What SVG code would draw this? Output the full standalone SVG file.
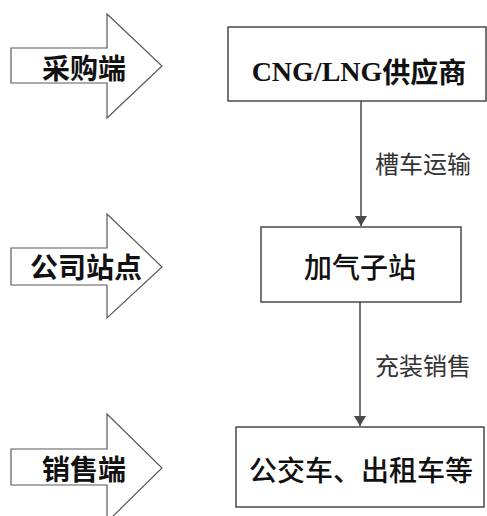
<svg xmlns="http://www.w3.org/2000/svg" width="487" height="516" viewBox="0 0 487 516">
<style>
.bg{fill:#ffffff}
.side{fill:#ffffff;stroke:#5a5a5a;stroke-width:1.2}
.box{fill:#ffffff;stroke:#4a4a4a;stroke-width:1.5}
.t{font-family:"Noto Sans CJK SC","Noto Sans",sans-serif;font-weight:bold;font-size:28px;fill:#111;text-anchor:middle;dominant-baseline:central}
.tn{font-family:"Noto Sans CJK SC","Noto Sans",sans-serif;font-weight:500;font-size:28px;fill:#111;text-anchor:middle;dominant-baseline:central}
.tl{font-family:"Liberation Serif","Noto Sans CJK SC",serif;font-weight:bold;font-size:28px;fill:#111;text-anchor:middle;dominant-baseline:central}
.lab{font-family:"Noto Sans CJK SC","Noto Sans",sans-serif;font-size:24px;fill:#333;text-anchor:start;dominant-baseline:central}
.con{stroke:#4a4a4a;stroke-width:1.5;fill:none}
</style>
<defs>
<marker id="ah" viewBox="0 0 10 12" refX="10" refY="6" markerWidth="10" markerHeight="12" markerUnits="userSpaceOnUse" orient="auto">
<path d="M0,0 L10,6 L0,12 Z" fill="#4a4a4a"/>
</marker>
</defs>
<rect class="bg" x="0" y="0" width="487" height="516"/>
<g id="side-purchase">
<path class="side" d="M11,48 H107 V14 L162,66 L107,118 V83 H11 Z"/>
<text class="t" x="84" y="67">采购端</text>
</g>
<g id="side-station">
<path class="side" d="M11,248 H107 V214 L162,267 L107,318 V285 H11 Z"/>
<text class="t" x="86" y="266">公司站点</text>
</g>
<g id="side-sales">
<path class="side" d="M11,449 H107 V414 L162,468 L107,522 V485 H11 Z"/>
<text class="t" x="84" y="468">销售端</text>
</g>
<g id="supplier">
<rect class="box" x="228" y="27" width="258" height="74"/>
<text class="tl" x="359" y="71">CNG/LNG<tspan font-family="Noto Sans CJK SC,sans-serif">供应商</tspan></text>
</g>
<g id="station">
<rect class="box" x="261" y="227" width="200" height="75"/>
<text class="tn" x="360" y="266">加气子站</text>
</g>
<g id="customers">
<rect class="box" x="236" y="427" width="248" height="80"/>
<text class="tn" x="361" y="469">公交车、出租车等</text>
</g>
<g id="connectors">
<line class="con" x1="361" y1="101" x2="361" y2="226" marker-end="url(#ah)"/>
<text class="lab" x="375" y="162">槽车运输</text>
<line class="con" x1="360" y1="302" x2="360" y2="426" marker-end="url(#ah)"/>
<text class="lab" x="375" y="364">充装销售</text>
</g>
</svg>
